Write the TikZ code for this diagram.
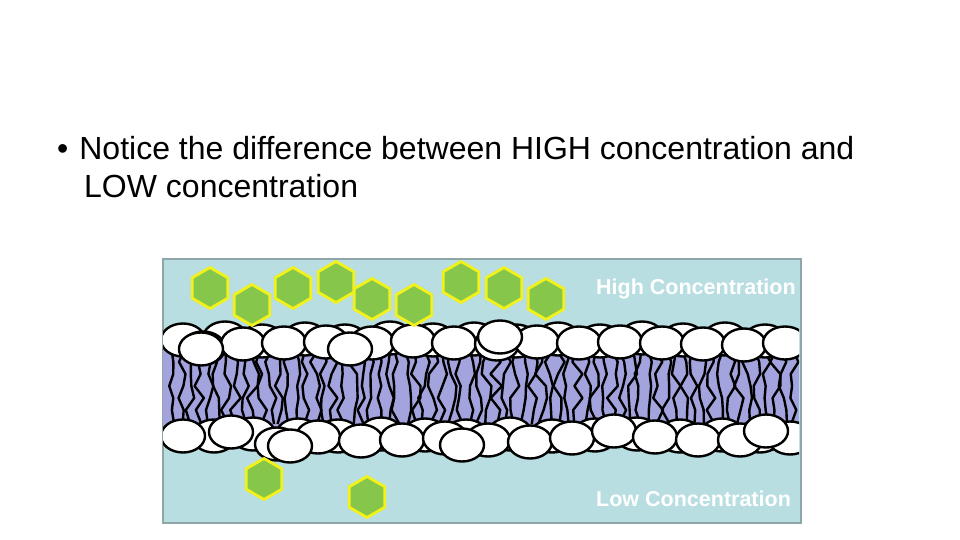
\documentclass[tikz,border=0pt]{standalone}
\usepackage{fontspec}
\setmainfont{Liberation Sans}
\usetikzlibrary{shapes.geometric}
\definecolor{water}{HTML}{B8DEE2}
\definecolor{boxline}{HTML}{8FA6A8}
\definecolor{lipid}{HTML}{A3A3DE}
\definecolor{hexfill}{HTML}{86C64A}
\definecolor{hexline}{HTML}{F2F21A}
\tikzset{
  hexmol/.style={regular polygon, regular polygon sides=6, shape border rotate=30, minimum size=41pt, fill=hexfill, draw=hexline, line width=2.8pt, inner sep=0pt},
  head/.style={ellipse, minimum width=44pt, minimum height=33pt, fill=white, draw=black, line width=2.4pt, inner sep=0pt},
  tail/.style={draw=black, line width=2.4pt, line join=round},
  lbl/.style={text=white, font=\bfseries\fontsize{21.5}{24}\selectfont, anchor=west, inner sep=0pt}
}
\begin{document}
\begin{tikzpicture}[x=1pt,y=-1pt]
\useasboundingbox (0,0) rectangle (960,540);
\node[anchor=base west, inner sep=0pt, font=\fontsize{32}{36}\selectfont] (t1) at (57,160) {\textbullet\hspace{11pt}Notice the difference between HIGH concentration and};
\node[anchor=base west, inner sep=0pt, font=\fontsize{32}{36}\selectfont] (t2) at (84,197) {LOW concentration};
\node[draw=boxline, line width=2pt, fill=water, minimum width=638pt, minimum height=264pt, anchor=north west, inner sep=0pt] (box) at (162,258) {};
\begin{scope}
\clip (163,259) rectangle (799,521);
\fill[lipid] (163,336) rectangle (799,432);
\pgfmathsetseed{7}
\foreach \x in {172,181,...,795}{
  \pgfmathsetmacro{\a}{\x+rand*3}
  \pgfmathsetmacro{\b}{\x+rand*6}
  \pgfmathsetmacro{\c}{\x+rand*6}
  \pgfmathsetmacro{\d}{\x+rand*6}
  \pgfmathsetmacro{\e}{\x+rand*6}
  \pgfmathsetmacro{\f}{\x+rand*6}
  \pgfmathsetmacro{\g}{\x+rand*3}
  \draw[tail] (\a,350) -- (\b,362) -- (\c,374) -- (\d,386) -- (\e,398) -- (\f,410) -- (\g,424);
}
\foreach \x/\y in {183/340,225/338,262/341,305/339,345/341,390/338,433/340,474/339,516/341,558/339,600/341,642/338,683/340,725/339,765/341,
                   214/436,253/434,298/435,338/436,381/434,425/435,466/436,510/434,552/436,595/435,637/434,680/436,722/435,760/436,790/438}
  \node[head] at (\x,\y) {};
\foreach \x/\y in {203/348,243/344,284/343,326/342,372/343,413/341,454/343,497/344,537/342,579/343,620/342,662/343,703/344,744/345,785/343,
                   183/436,231/432,277/444,318/437,361/441,402/440,445/438,488/440,530/442,572/438,614/431,655/437,698/440,740/440,766/431}
  \node[head] at (\x,\y) {};
\node[head] at (201,349) {};
\node[head] at (350,349) {};
\node[head] at (500,337) {};
\node[head] at (462,445) {};
\node[head] at (290,446) {};
\node[lbl] (hi) at (596,289) {High Concentration};
\node[lbl] (lo) at (596,499) {Low Concentration};
\end{scope}
\foreach \x/\y [count=\i] in {210/288,252/305,293/288,336/282,372/299,414/305,461/282,504/288,546/299,264/479,367/497}
  \node[hexmol] (m\i) at (\x,\y) {};
\end{tikzpicture}
\end{document}
